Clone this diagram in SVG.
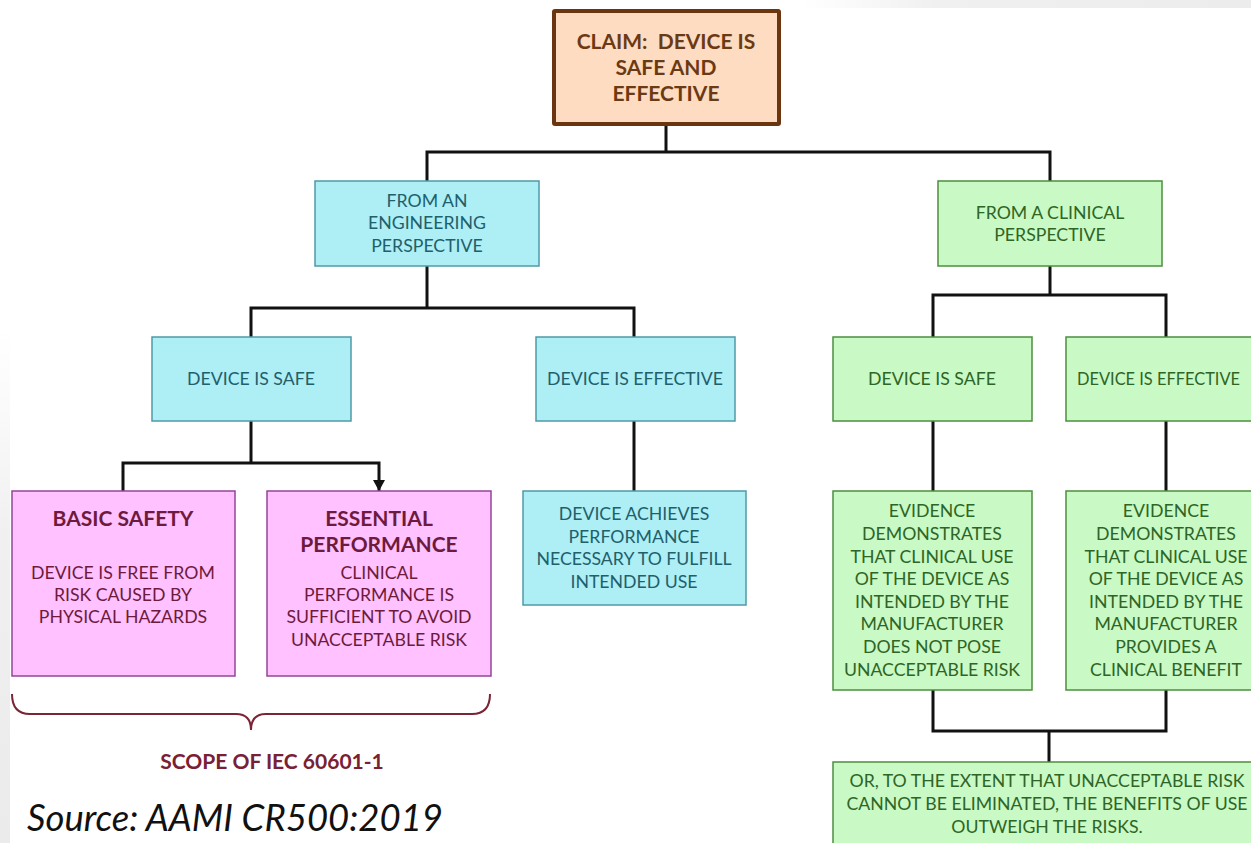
<svg xmlns="http://www.w3.org/2000/svg" width="1251" height="843" viewBox="0 0 1251 843">
<defs>
<style>
.t{font-family:Lato,"Open Sans","Liberation Sans",sans-serif;text-anchor:middle;font-size:17.7px}
.h{font-size:21px;font-weight:bold}
.cy{fill:#aeeef5;stroke:#4f9aa6;stroke-width:1.5}
.cyt{fill:#215f6b}
.gr{fill:#c9f9c4;stroke:#4d8f3e;stroke-width:1.5}
.grt{fill:#2e6526}
.pk{fill:#ffc1ff;stroke:#94449a;stroke-width:1.5}
.pkt{fill:#6d1a3c}
.c{fill:none;stroke:#111;stroke-width:3}
</style>
<marker id="ar" markerWidth="12" markerHeight="12" refX="11" refY="6" orient="auto" markerUnits="userSpaceOnUse" viewBox="0 0 12 12">
<path d="M0,0 L11,6 L0,12 Z" fill="#111"/>
</marker>
<linearGradient id="gt" x1="0" y1="0" x2="1" y2="0"><stop offset="0" stop-color="#f2f2f2" stop-opacity="0"/><stop offset="0.3" stop-color="#f0f0f0"/><stop offset="1" stop-color="#ececec"/></linearGradient>
<linearGradient id="gl" x1="0" y1="0" x2="0" y2="1"><stop offset="0" stop-color="#f2f2f2" stop-opacity="0"/><stop offset="0.4" stop-color="#f0f0f0"/><stop offset="1" stop-color="#ebebeb"/></linearGradient>
</defs>
<rect width="1251" height="843" fill="#ffffff"/>
<rect x="800" y="0" width="451" height="8" fill="url(#gt)"/>
<rect x="0" y="330" width="10" height="513" fill="url(#gl)"/>

<g id="connectors">
<polyline class="c" points="666,125 666,152"/>
<polyline class="c" points="427,181 427,152 1050,152 1050,181"/>
<polyline class="c" points="427,266 427,308"/>
<polyline class="c" points="251,337 251,308 634,308 634,337"/>
<polyline class="c" points="1050,266 1050,295"/>
<polyline class="c" points="933,337 933,295 1166,295 1166,337"/>
<polyline class="c" points="251,421 251,463"/>
<polyline class="c" points="123,491 123,463 379,463 379,491" marker-end="url(#ar)"/>
<polyline class="c" points="634,421 634,491"/>
<polyline class="c" points="933,421 933,491"/>
<polyline class="c" points="1166,421 1166,491"/>
<polyline class="c" points="933,690 933,731 1166,731 1166,690"/>
<polyline class="c" points="1049,731 1049,762"/>
</g>

<g id="claim">
<rect x="554" y="11" width="225" height="113" fill="#fddcc2" stroke="#6b3510" stroke-width="4" rx="1"/>
<text class="t" fill="#6b3a14" style="font-size:21px;font-weight:bold"><tspan x="666" y="49">CLAIM:&#160; DEVICE IS</tspan><tspan x="666" y="75">SAFE AND</tspan><tspan x="666" y="101">EFFECTIVE</tspan></text>
</g>

<g id="engineering">
<rect class="cy" x="315" y="181" width="224" height="85"/>
<text class="t cyt"><tspan x="427" y="207">FROM AN</tspan><tspan x="427" y="229">ENGINEERING</tspan><tspan x="427" y="252">PERSPECTIVE</tspan></text>
</g>

<g id="clinical">
<rect class="gr" x="938" y="181" width="224" height="85"/>
<text class="t grt"><tspan x="1050" y="219">FROM A CLINICAL</tspan><tspan x="1050" y="241">PERSPECTIVE</tspan></text>
</g>

<g id="eng-safe">
<rect class="cy" x="152" y="337" width="199" height="84"/>
<text class="t cyt" x="251" y="385">DEVICE IS SAFE</text>
</g>

<g id="eng-effective">
<rect class="cy" x="536" y="337" width="199" height="84"/>
<text class="t cyt" x="635" y="385">DEVICE IS EFFECTIVE</text>
</g>

<g id="cli-safe">
<rect class="gr" x="833" y="337" width="199" height="84"/>
<text class="t grt" x="932" y="385">DEVICE IS SAFE</text>
</g>

<g id="cli-effective">
<rect class="gr" x="1066" y="337" width="200" height="84"/>
<text class="t grt" x="1077" y="385" style="text-anchor:start;font-size:17px" textLength="163" lengthAdjust="spacingAndGlyphs">DEVICE IS EFFECTIVE</text>
</g>

<g id="basic-safety">
<rect class="pk" x="12" y="491" width="223" height="185"/>
<text class="t h pkt" x="123" y="526">BASIC SAFETY</text>
<text class="t pkt"><tspan x="123" y="579">DEVICE IS FREE FROM</tspan><tspan x="123" y="601">RISK CAUSED BY</tspan><tspan x="123" y="623">PHYSICAL HAZARDS</tspan></text>
</g>

<g id="essential-performance">
<rect class="pk" x="267" y="491" width="224" height="185"/>
<text class="t h pkt"><tspan x="379" y="526">ESSENTIAL</tspan><tspan x="379" y="552">PERFORMANCE</tspan></text>
<text class="t pkt"><tspan x="379" y="579">CLINICAL</tspan><tspan x="379" y="601">PERFORMANCE IS</tspan><tspan x="379" y="623">SUFFICIENT TO AVOID</tspan><tspan x="379" y="646">UNACCEPTABLE RISK</tspan></text>
</g>

<g id="achieves">
<rect class="cy" x="523" y="491" width="223" height="114"/>
<text class="t cyt"><tspan x="634" y="520">DEVICE ACHIEVES</tspan><tspan x="634" y="543">PERFORMANCE</tspan><tspan x="634" y="565">NECESSARY TO FULFILL</tspan><tspan x="634" y="588">INTENDED USE</tspan></text>
</g>

<g id="evidence-safe">
<rect class="gr" x="833" y="491" width="199" height="199"/>
<text class="t grt"><tspan x="932" y="517">EVIDENCE</tspan><tspan x="932" y="540">DEMONSTRATES</tspan><tspan x="932" y="563">THAT CLINICAL USE</tspan><tspan x="932" y="585">OF THE DEVICE AS</tspan><tspan x="932" y="608">INTENDED BY THE</tspan><tspan x="932" y="630">MANUFACTURER</tspan><tspan x="932" y="653">DOES NOT POSE</tspan><tspan x="932" y="676">UNACCEPTABLE RISK</tspan></text>
</g>

<g id="evidence-effective">
<rect class="gr" x="1066" y="491" width="200" height="199"/>
<text class="t grt"><tspan x="1166" y="517">EVIDENCE</tspan><tspan x="1166" y="540">DEMONSTRATES</tspan><tspan x="1166" y="563">THAT CLINICAL USE</tspan><tspan x="1166" y="585">OF THE DEVICE AS</tspan><tspan x="1166" y="608">INTENDED BY THE</tspan><tspan x="1166" y="630">MANUFACTURER</tspan><tspan x="1166" y="653">PROVIDES A</tspan><tspan x="1166" y="676">CLINICAL BENEFIT</tspan></text>
</g>

<g id="benefit">
<rect class="gr" x="833" y="762" width="440" height="100"/>
<text class="t grt"><tspan x="1047" y="787">OR, TO THE EXTENT THAT UNACCEPTABLE RISK</tspan><tspan x="1047" y="810">CANNOT BE ELIMINATED, THE BENEFITS OF USE</tspan><tspan x="1047" y="833">OUTWEIGH THE RISKS.</tspan></text>
</g>

<g id="scope">
<path d="M12,694 Q12,714 30,714 L236,714 Q251,714 251,730 Q251,714 266,714 L472,714 Q490,714 490,694" fill="none" stroke="#7a2436" stroke-width="2"/>
<text class="t h" fill="#7a2034" x="272" y="769">SCOPE OF IEC 60601-1</text>
</g>

<text id="source" x="27" y="831" font-family="Lato,'Liberation Sans',sans-serif" font-style="italic" font-size="36.5" fill="#111">Source: AAMI CR500:2019</text>
</svg>
